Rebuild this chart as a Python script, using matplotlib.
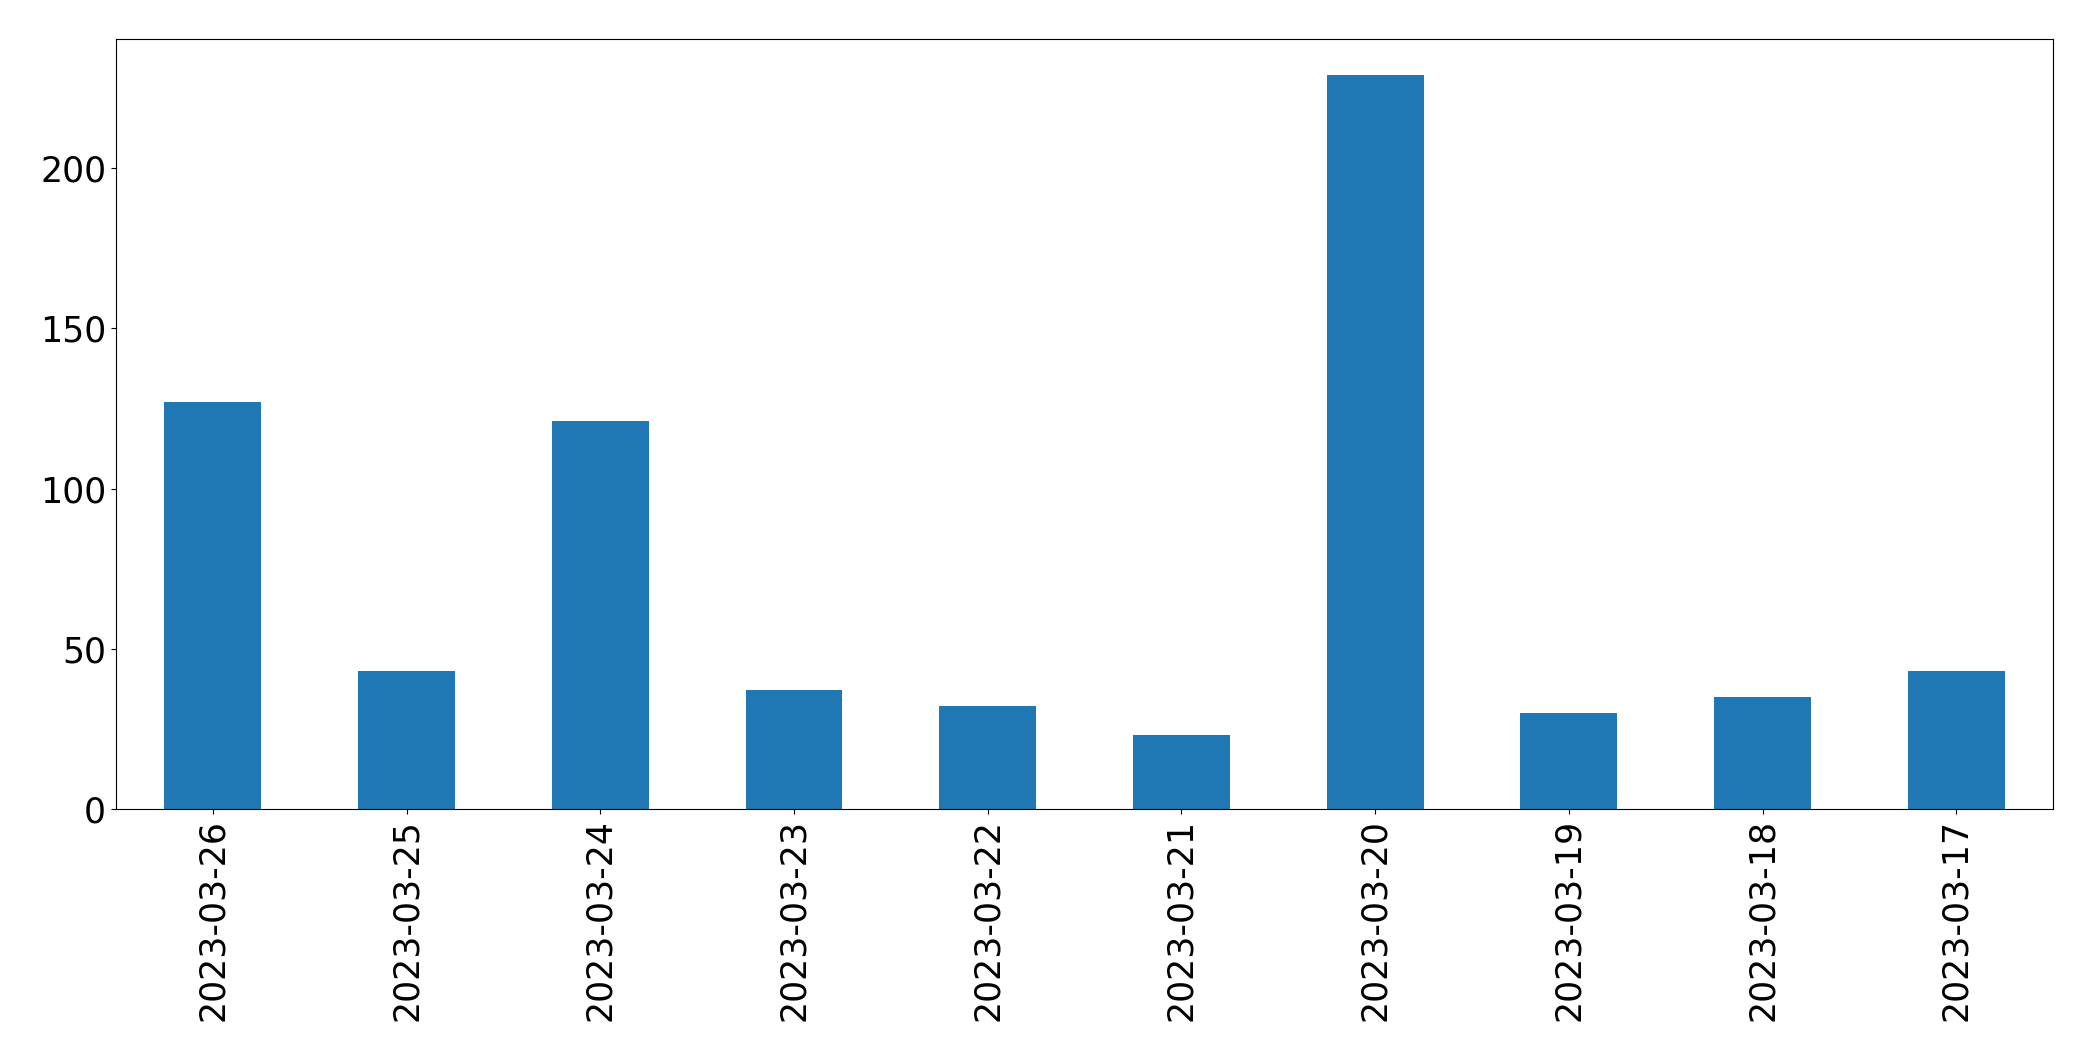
import pandas as pd
import matplotlib
matplotlib.use('Agg')
import matplotlib.pyplot as plt

# daily counts, newest first
dates = ['2023-03-26', '2023-03-25', '2023-03-24', '2023-03-23', '2023-03-22',
         '2023-03-21', '2023-03-20', '2023-03-19', '2023-03-18', '2023-03-17']
counts = [127, 43, 121, 37, 32, 23, 229, 30, 35, 43]

s = pd.Series(counts, index=dates)

fig = plt.figure(figsize=(20.93, 10.61), dpi=100)
ax = fig.add_subplot(111)
s.plot.bar(ax=ax, fontsize=25)

plt.subplots_adjust(left=0.0554, right=0.981, top=0.9635, bottom=0.2375)
plt.savefig('out.png', dpi=100)
